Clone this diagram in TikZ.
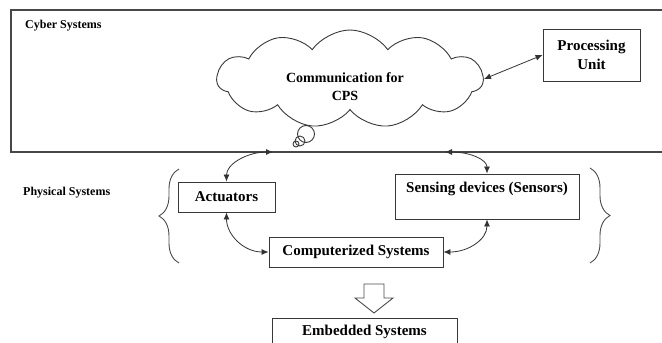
\documentclass[tikz,border=0pt]{standalone}
\usepackage{fontspec}
\setmainfont{Liberation Serif}
\usetikzlibrary{shapes.symbols,arrows.meta,decorations.pathreplacing}

\begin{document}
\begin{tikzpicture}[x=1pt,y=-1pt,
  line/.style={draw=black!78, line width=0.9pt},
  box/.style={line, rectangle, inner sep=0pt, font=\fontsize{15}{19}\selectfont\bfseries},
  txt/.style={inner sep=0pt, align=center, font=\fontsize{15}{19}\selectfont\bfseries},
  lbl/.style={inner sep=0pt, anchor=west, font=\fontsize{12}{14}\selectfont\bfseries},
  link/.style={draw=black!80, line width=0.8pt,
    {Latex[length=7pt,width=6pt]}-{Latex[length=7pt,width=6pt]}},
  bracket/.style={draw=black!70, line width=0.9pt, decorate,
    decoration={brace, amplitude=20pt}},
  hollow/.style={draw=black!70, line width=0.9pt, fill=white},
]
\useasboundingbox (0,0) rectangle (662,343);
\clip (0,0) rectangle (662,343);

% cyber layer frame (runs off the right edge)
\draw[draw=black!72, line width=1.5pt] (11,10) rectangle (700,152);
\node[lbl] (cyberlbl) at (25,26) {Cyber Systems};
\node[lbl] (physlbl) at (23,193) {Physical Systems};

% communication cloud with thought bubbles
\node[cloud, cloud puffs=11, cloud puff arc=110, aspect=2.6, line,
      minimum width=266pt, minimum height=98pt, inner sep=0pt] (cloud) at (350,79) {};
\node[txt, font=\fontsize{14}{18}\selectfont\bfseries] (cloudtxt) at (345,87) {Communication for\\CPS};
\node[circle, line, minimum size=17pt, inner sep=0pt] (bub1) at (306,134) {};
\node[circle, line, minimum size=10pt, inner sep=0pt] (bub2) at (300,141) {};
\node[circle, line, minimum size=6pt, inner sep=0pt] (bub3) at (296,144) {};

% processing unit
\node[box, minimum width=97pt, minimum height=52pt, align=center] (pu) at (591.5,55) {Processing\\Unit};
\draw[link] (cloud.east) -- (pu.west);

% physical components
\node[box, minimum width=97pt, minimum height=30pt] (act) at (226.5,197) {Actuators};
\node[box, minimum width=184pt, minimum height=45pt] (sens) at (487,196.5) {};
\node[txt] (senstxt) at (487,189) {Sensing devices (Sensors)};
\node[box, minimum width=174pt, minimum height=30pt] (comp) at (356,252) {Computerized Systems};
\node[box, minimum width=185pt, minimum height=40pt, anchor=north] (emb) at (364.5,318) {};
\node[txt] (embtxt) at (364.5,332) {Embedded Systems};

% attachment points on the cyber frame
\coordinate (cl) at (273,152);
\coordinate (cr) at (445,152);

\draw[link] (act.north) .. controls +(0,-18) and +(-25,0) .. (cl);
\draw[link] (cr) .. controls +(25,0) and +(0,-14) .. (sens.north);
\draw[link] (act.south) .. controls +(0,22) and +(-25,0) .. (comp.west);
\draw[link] (sens.south) .. controls +(0,20) and +(25,0) .. (comp.east);

% braces around the physical layer
\draw[bracket] (179,263) -- (179,169);
\draw[bracket] (590,168) -- (590,263);

% hollow arrow down to embedded systems
\draw[hollow] (364,284) -- (384,284) -- (384,298) -- (393,298) -- (374,313)
  -- (355,298) -- (364,298) -- cycle;
\end{tikzpicture}
\end{document}
